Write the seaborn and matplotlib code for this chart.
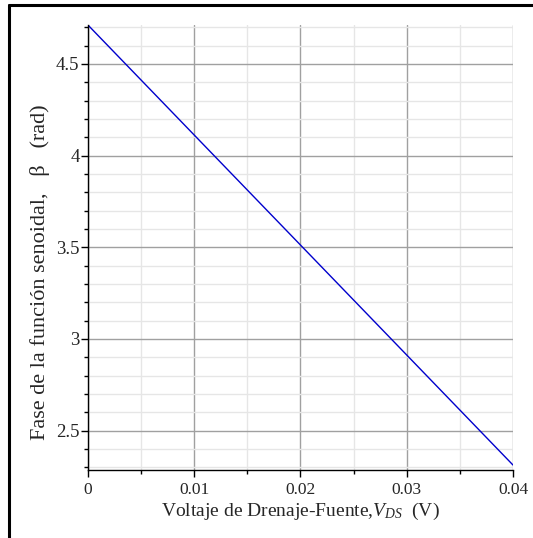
import numpy as np
import pandas as pd
import matplotlib
matplotlib.use("Agg")
import matplotlib.pyplot as plt
from matplotlib.lines import Line2D
from matplotlib.ticker import MultipleLocator
import seaborn as sns

# values
vds = [0.0, 0.01, 0.02, 0.03, 0.04]
beta = [4.712, 4.112, 3.512, 2.912, 2.312]
x_ticks = [0, 0.01, 0.02, 0.03, 0.04]
x_tick_labels = ["0", "0.01", "0.02", "0.03", "0.04"]
y_ticks = [2.5, 3.0, 3.5, 4.0, 4.5]
y_tick_labels = ["2.5", "3", "3.5", "4", "4.5"]

df = pd.DataFrame({"vds": vds, "beta": beta})

sns.set_style("white")
plt.rcParams["font.family"] = ["Liberation Serif", "DejaVu Serif"]
plt.rcParams["mathtext.fontset"] = "custom"
plt.rcParams["mathtext.rm"] = "Liberation Serif"
plt.rcParams["mathtext.it"] = "Liberation Serif:italic"

fig = plt.figure(figsize=(5.33, 5.38), dpi=100)
ax = fig.add_axes([0.165, 0.1264, 0.7975, 0.8271])

sns.lineplot(data=df, x="vds", y="beta", ax=ax, color="#0000cc", linewidth=1.0)

ax.set_xlim(0, 0.04)
ax.set_ylim(2.285, 4.712)

ax.set_xticks(x_ticks)
ax.set_xticklabels(x_tick_labels)
ax.set_yticks(y_ticks)
ax.set_yticklabels(y_tick_labels)
ax.xaxis.set_minor_locator(MultipleLocator(0.005))
ax.yaxis.set_minor_locator(MultipleLocator(0.1))

ax.grid(which="major", color="#a0a0a0", linewidth=1.0)
ax.grid(which="minor", color="#e6e6e6", linewidth=1.0)
ax.set_axisbelow(True)

for side in ["top", "right"]:
    ax.spines[side].set_visible(False)
for side in ["left", "bottom"]:
    ax.spines[side].set_color("black")
    ax.spines[side].set_linewidth(1.0)

ax.tick_params(which="major", direction="out", length=5, width=1, color="black",
               left=True, bottom=True)
ax.tick_params(which="minor", direction="out", length=3, width=1, color="black",
               left=True, bottom=True)
ax.tick_params(axis="x", labelsize=12.5, pad=4)
ax.tick_params(axis="y", labelsize=13.5, pad=1)

ax.set_xlabel(r"Voltaje de Drenaje-Fuente,$V_{DS}$  (V)", fontsize=14, labelpad=2)
ax.set_ylabel("Fase de la función senoidal,   β   (rad)", fontsize=16)
ax.yaxis.set_label_coords(-0.09, 0.445)

# outer frame (left and top edges)
W, H = 533, 538
fig.add_artist(Line2D([9 / W, 9 / W], [0, 1 - 5 / H], color="black", linewidth=2.2,
                      transform=fig.transFigure))
fig.add_artist(Line2D([9 / W, 1], [1 - 5 / H, 1 - 5 / H], color="black", linewidth=2.2,
                      transform=fig.transFigure))

fig.savefig("out.png", dpi=100)
